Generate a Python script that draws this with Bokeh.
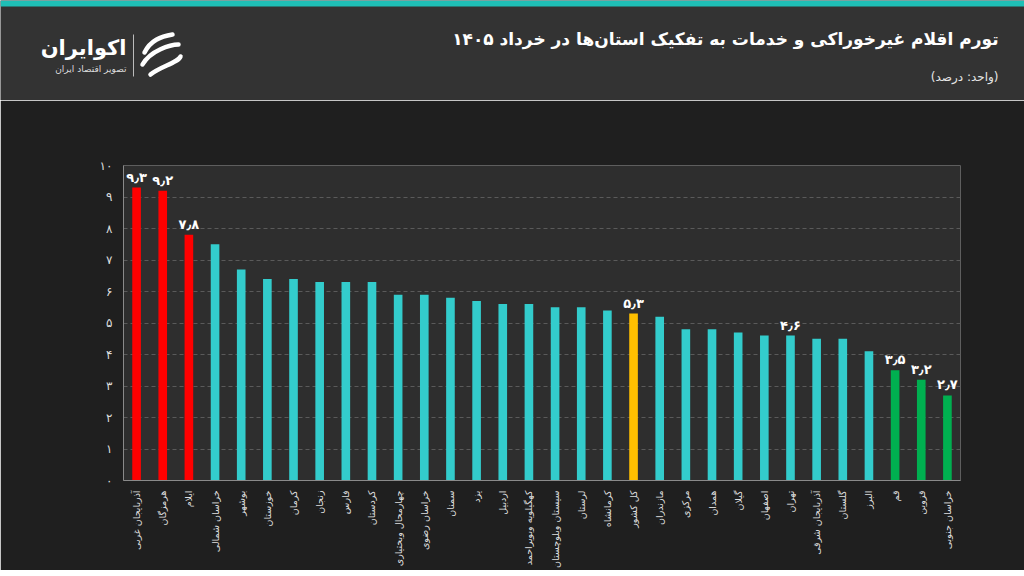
import math
from bokeh.plotting import figure
from bokeh.layouts import column
from bokeh.models import FactorRange, Range1d, FixedTicker, ColumnDataSource, LabelSet
from bokeh.core.properties import value
from bokeh.embed import file_html
from bokeh.resources import INLINE

# ---------------- data ----------------
provinces = [
    "آذربایجان غربی", "هرمزگان", "ایلام", "خراسان شمالی", "بوشهر", "خوزستان",
    "کرمان", "زنجان", "فارس", "کردستان", "چهارمحال وبختیاری", "خراسان رضوی",
    "سمنان", "یزد", "اردبیل", "کهگیلویه وبویراحمد", "سیستان وبلوچستان", "لرستان",
    "کرمانشاه", "کل کشور", "مازندران", "مرکزی", "همدان", "گیلان",
    "اصفهان", "تهران", "آذربایجان شرقی", "گلستان", "البرز", "قم",
    "قزوین", "خراسان جنوبی",
]
inflation = [
    9.3, 9.2, 7.8, 7.5, 6.7, 6.4,
    6.4, 6.3, 6.3, 6.3, 5.9, 5.9,
    5.8, 5.7, 5.6, 5.6, 5.5, 5.5,
    5.4, 5.3, 5.2, 4.8, 4.8, 4.7,
    4.6, 4.6, 4.5, 4.5, 4.1, 3.5,
    3.2, 2.7,
]
top_group = ["آذربایجان غربی", "هرمزگان", "ایلام"]
national = ["کل کشور"]
bottom_group = ["قم", "قزوین", "خراسان جنوبی"]
labeled = ["آذربایجان غربی", "هرمزگان", "ایلام", "کل کشور", "تهران", "قم", "قزوین", "خراسان جنوبی"]
y_ticks = [0, 1, 2, 3, 4, 5, 6, 7, 8, 9, 10]

title_text = "تورم اقلام غیرخوراکی و خدمات به تفکیک استان‌ها در خرداد ۱۴۰۵"
subtitle_text = "(واحد: درصد)"

# ---------------- helpers ----------------
FA_DIGITS = str.maketrans("0123456789.", "۰۱۲۳۴۵۶۷۸۹٫")


def fa(s):
    return str(s).translate(FA_DIGITS)


RED = "#ff0000"
TEAL = "#33cccc"
YELLOW = "#ffc000"
GREEN = "#00b050"
STRIP = "#1fbfb6"
FONT = "DejaVu Sans"

colors = []
for name in provinces:
    if name in top_group:
        colors.append(RED)
    elif name in national:
        colors.append(YELLOW)
    elif name in bottom_group:
        colors.append(GREEN)
    else:
        colors.append(TEAL)

src = ColumnDataSource(dict(x=provinces, y=inflation, color=colors))
lab_src = ColumnDataSource(dict(
    x=[p for p in provinces if p in labeled],
    y=[v for p, v in zip(provinces, inflation) if p in labeled],
    t=[fa(v) for p, v in zip(provinces, inflation) if p in labeled],
))

# ---------------- header ----------------
hdr = figure(width=1024, height=100, x_range=Range1d(0, 1024), y_range=Range1d(100, 0),
             output_backend="svg", toolbar_location=None, min_border=0)
hdr.frame_align = False
hdr.axis.visible = False
hdr.grid.visible = False
hdr.outline_line_color = None
hdr.background_fill_color = "#333333"
hdr.border_fill_color = "#333333"
hdr.quad(left=[0], right=[1024], top=[0], bottom=[6], fill_color=STRIP, line_color=None)
hdr.text(x=[998], y=[38], text=[title_text], text_align="right", text_baseline="middle",
         text_font=value(FONT), text_font_size="17px", text_font_style="bold", text_color="#ffffff")
hdr.text(x=[998], y=[76], text=[subtitle_text], text_align="right", text_baseline="middle",
         text_font=value(FONT), text_font_size="12px", text_color="#e6e6e6")
# logo
hdr.text(x=[126], y=[47], text=["اکوایران"], text_align="right", text_baseline="middle",
         text_font=value(FONT), text_font_size="21px", text_font_style="bold", text_color="#ffffff")
hdr.text(x=[126], y=[68], text=["تصویر اقتصاد ایران"], text_align="right", text_baseline="middle",
         text_font=value(FONT), text_font_size="9px", text_color="#dddddd")
hdr.segment(x0=[133], y0=[34], x1=[133], y1=[76], line_color="#bbbbbb", line_width=1)
hdr.bezier(x0=[144, 142, 150], y0=[52, 64, 74], x1=[172, 178, 180], y1=[34, 44, 56],
           cx0=[150, 150, 160], cy0=[40, 50, 66], cx1=[160, 170, 178], cy1=[36, 44, 62],
           line_color="#ffffff", line_width=4.5, line_cap="round")

# ---------------- main chart ----------------
p = figure(width=1024, height=470, x_range=FactorRange(*provinces), y_range=Range1d(0, 10),
           output_backend="svg", toolbar_location=None,
           min_border_left=123, min_border_right=64, min_border_top=65, min_border_bottom=85)
p.frame_align = False
p.background_fill_color = "#2e2e2e"
p.border_fill_color = "#1f1f1f"
p.outline_line_color = None

p.vbar(x="x", top="y", width=0.33, color="color", source=src, line_color=None)
p.add_layout(LabelSet(x="x", y="y", text="t", source=lab_src, text_align="center",
                      text_baseline="bottom", y_offset=3, text_color="#ffffff",
                      text_font=value(FONT), text_font_size="13px", text_font_style="bold"))

p.xgrid.grid_line_color = None
p.ygrid.ticker = FixedTicker(ticks=y_ticks)
p.ygrid.grid_line_color = "#5a5a5a"
p.ygrid.grid_line_dash = "4 3"

p.yaxis.ticker = FixedTicker(ticks=y_ticks)
p.yaxis.major_label_overrides = {t: fa(t) for t in y_ticks}
p.yaxis.major_tick_line_color = None
p.yaxis.minor_tick_line_color = None
p.yaxis.axis_line_color = "#8a8a8a"
p.yaxis.major_label_text_color = "#dddddd"
p.yaxis.major_label_text_font = FONT
p.yaxis.major_label_text_font_size = "12px"
p.yaxis.major_label_standoff = 5

p.xaxis.major_label_orientation = math.pi / 2
p.xaxis.major_tick_line_color = None
p.xaxis.axis_line_color = "#8a8a8a"
p.xaxis.major_label_text_color = "#dddddd"
p.xaxis.major_label_text_font = FONT
p.xaxis.major_label_text_font_size = "9.5px"
p.xaxis.major_label_standoff = 4
p.x_range.range_padding = 0

# ---------------- bottom strip ----------------
bot = figure(width=1024, height=6, x_range=Range1d(0, 1), y_range=Range1d(0, 1),
             output_backend="svg", toolbar_location=None, min_border=0)
bot.frame_align = False
bot.axis.visible = False
bot.grid.visible = False
bot.outline_line_color = None
bot.background_fill_color = STRIP
bot.border_fill_color = STRIP

layout = column(hdr, p, bot, spacing=0)
open("out.html", "w").write(file_html(layout, INLINE))
